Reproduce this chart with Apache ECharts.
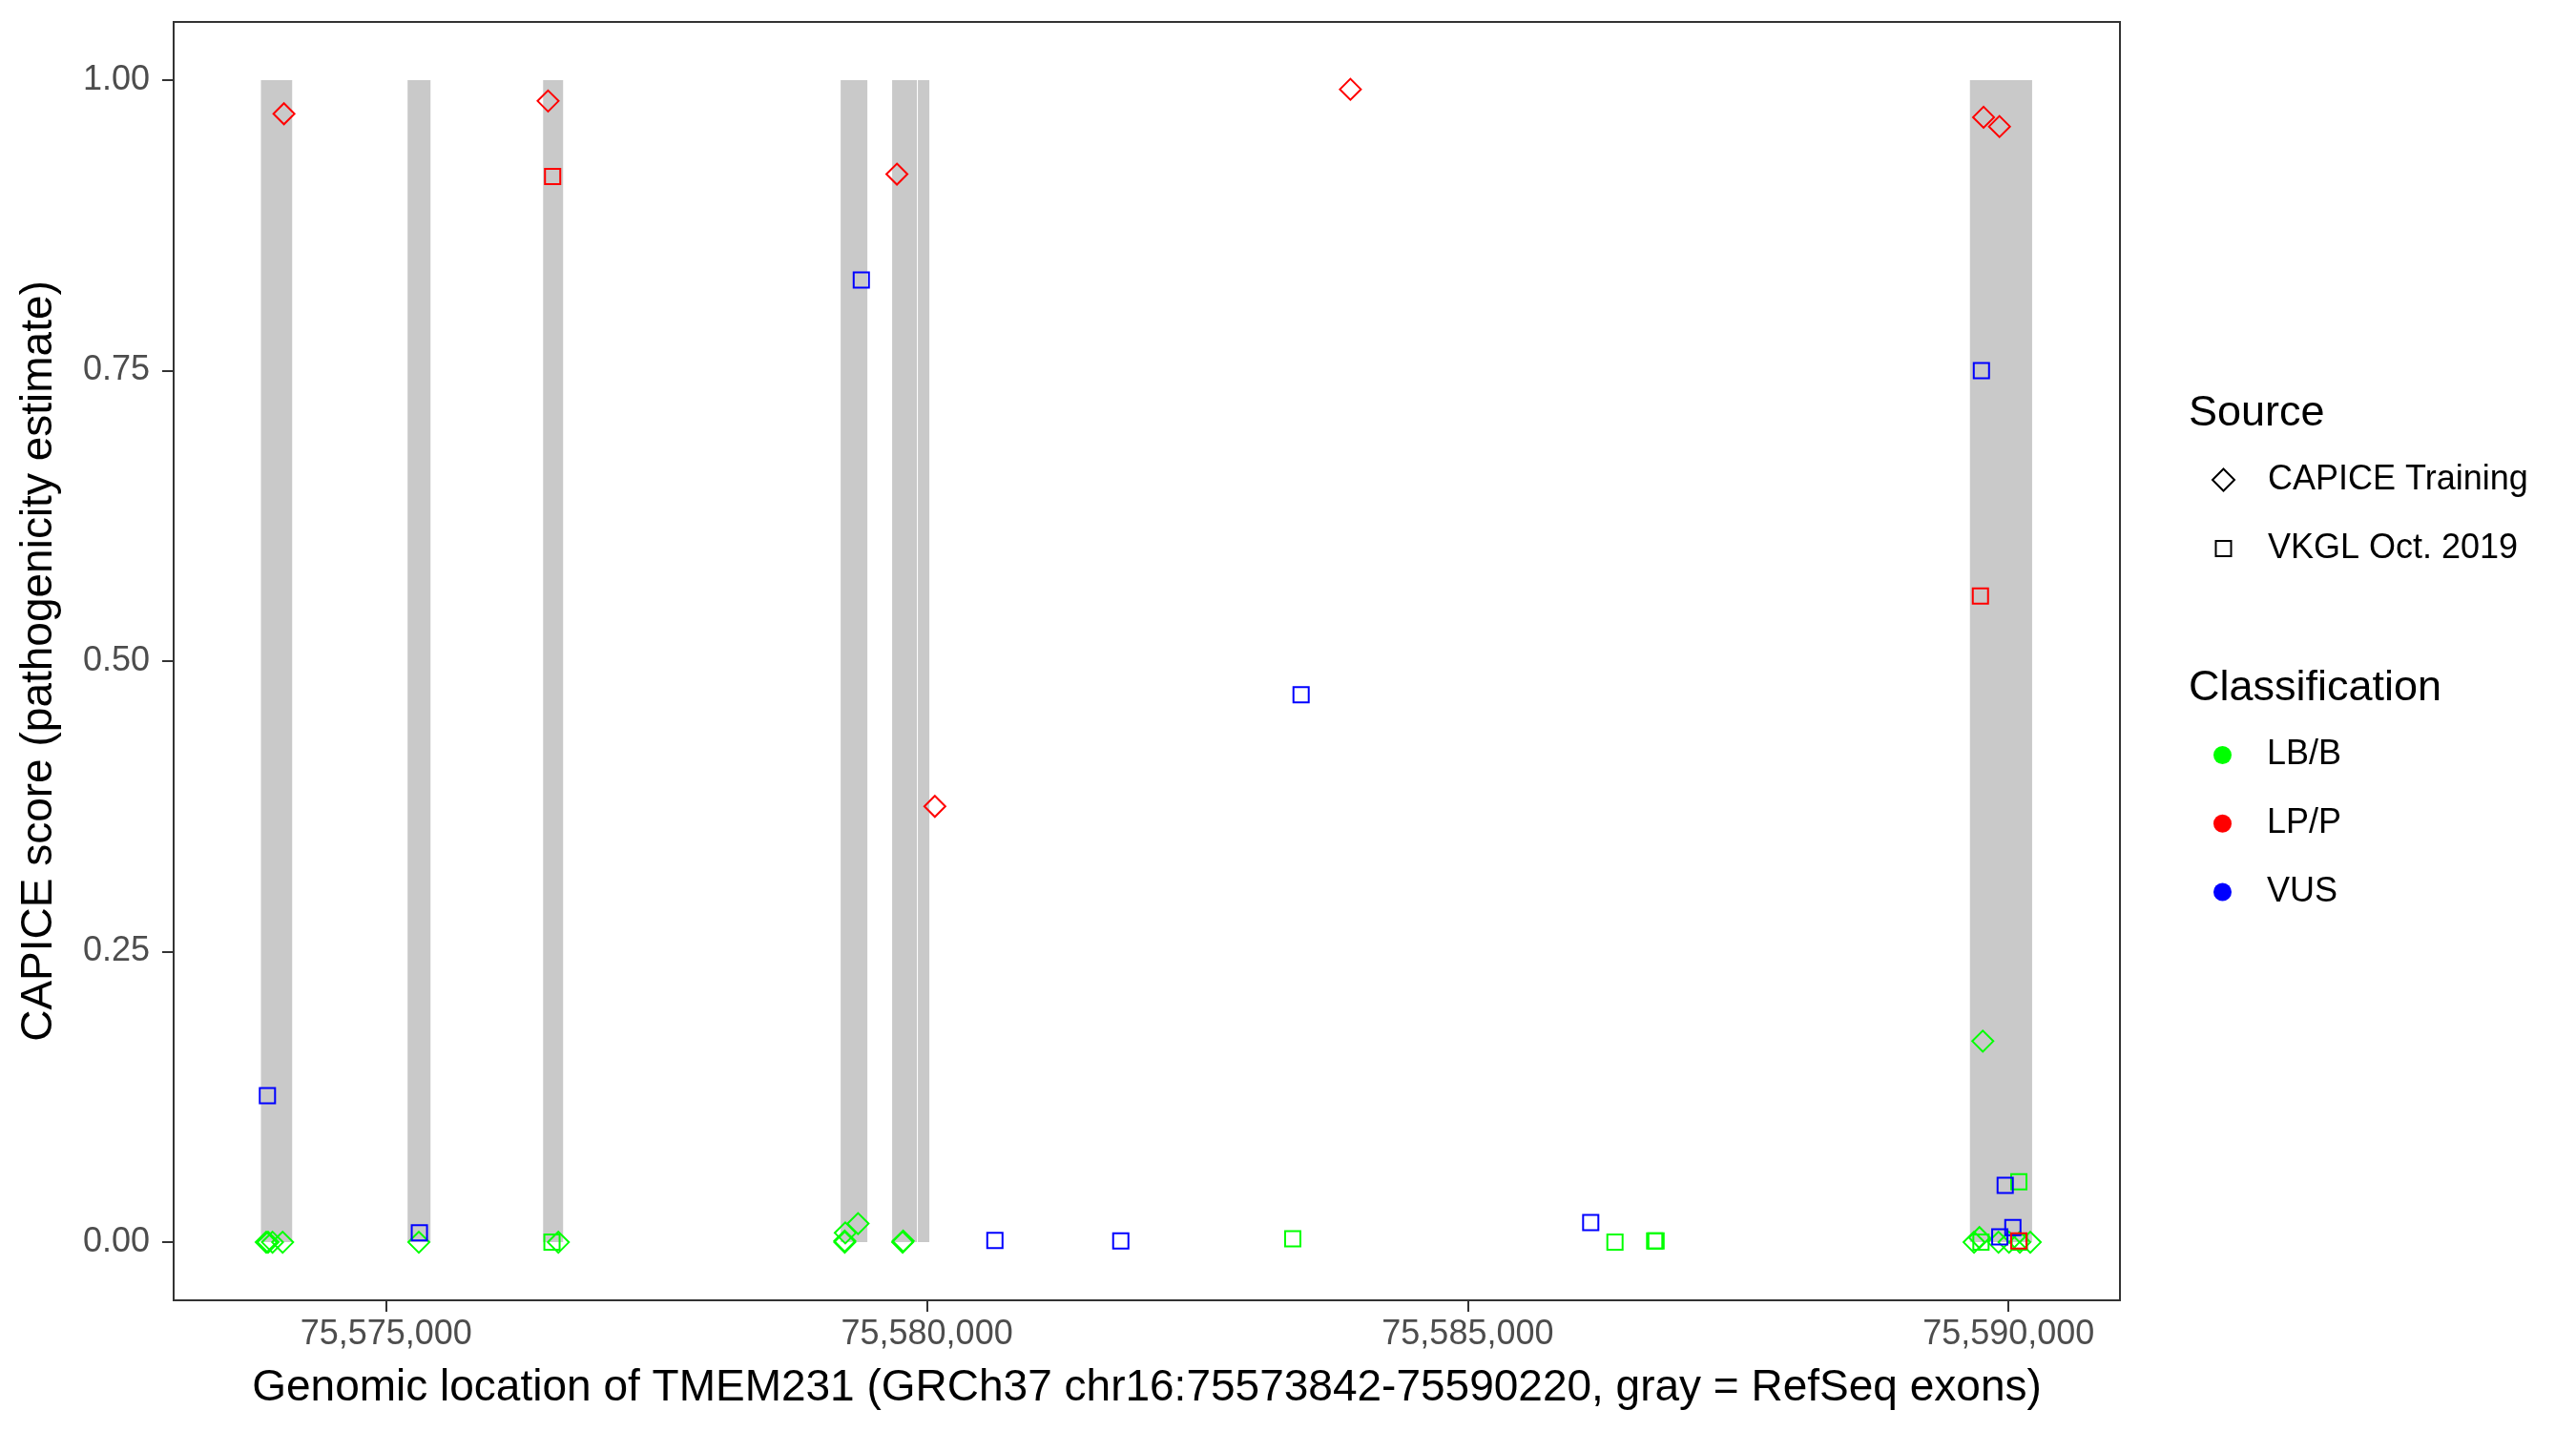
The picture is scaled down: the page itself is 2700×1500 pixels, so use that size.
<!DOCTYPE html>
<html><head><meta charset="utf-8">
<script src="https://cdn.jsdelivr.net/npm/echarts@6/dist/echarts.min.js"></script>
<style>html,body{margin:0;padding:0;background:#fff}#c{width:2700px;height:1500px}</style>
</head><body><div id="c"></div>
<script>
// ---- data ----
const xTicks = [75575000, 75580000, 75585000, 75590000];
const yTicks = [0, 0.25, 0.5, 0.75, 1];
const exonStart = [75573842, 75575198, 75576451, 75579202, 75579678, 75579916, 75589643];
const exonEnd   = [75574131, 75575410, 75576636, 75579449, 75579907, 75580022, 75590218];

// CAPICE Training (diamonds)
const trainingLBB = [[75573891,0],[75573908,0],[75573949,0],[75574043,0],
  [75575302,0],[75576592,0],
  [75579240,0],[75579240,0.001],[75579245,0.008],[75579363,0.016],
  [75579775,0],[75579780,0.001],
  [75589681,0],[75589731,0.004],[75589907,0],[75590004,0],[75590104,0],[75590201,0],[75589762,0.173]];
const trainingLPP = [[75574055,0.971],[75576497,0.982],[75579722,0.919],[75580073,0.375],
  [75583915,0.992],[75589769,0.968],[75589916,0.960]];
// VKGL Oct. 2019 (squares)
const vkglLBB = [[75576533,0],[75583382,0.003],[75586361,0],[75586728,0.001],[75586741,0.001],
  [75589745,0],[75590095,0.052],[75590100,0]];
const vkglLPP = [[75576539,0.917],[75589740,0.556],[75590095,0.001]];
const vkglVUS = [[75573902,0.126],[75575307,0.008],[75579393,0.828],[75580628,0.0015],[75581792,0.0012],
  [75583459,0.471],[75586137,0.017],[75589749,0.750],[75589969,0.049],[75590040,0.0125],[75589919,0.0045]];

const sourceNames = ['CAPICE Training', 'VKGL Oct. 2019'];
const classNames = ['LB/B', 'LP/P', 'VUS'];
const classColors = ['#00FF00', '#FF0000', '#0000FF'];

// ---- chart ----
const FF = '"Liberation Sans", Arial, Helvetica, sans-serif';
const chart = echarts.init(document.getElementById('c'));
const fmt = v => String(v).replace(/\B(?=(\d{3})+(?!\d))/g, ',');

function pts(name, data, symbol, color) {
  return {
    type: 'scatter', name, data, symbol,
    symbolSize: symbol === 'diamond' ? 22 : 16,
    itemStyle: { color: 'rgba(0,0,0,0)', borderColor: color, borderWidth: 2, opacity: 1 },
    z: 3, silent: true
  };
}

const series = [
  {
    type: 'custom', name: 'exons', z: 1, silent: true,
    data: exonStart.map((s, i) => [s, exonEnd[i]]),
    encode: { x: [0, 1] },
    renderItem: (params, api) => {
      const p0 = api.coord([api.value(0), 1]);
      const p1 = api.coord([api.value(1), 0]);
      return { type: 'rect', shape: { x: p0[0], y: p0[1], width: p1[0] - p0[0], height: p1[1] - p0[1] },
               style: { fill: '#C9C9C9' } };
    }
  },
  pts('t-LB/B', trainingLBB, 'diamond', classColors[0]),
  pts('v-LB/B', vkglLBB, 'rect', classColors[0]),
  pts('t-LP/P', trainingLPP, 'diamond', classColors[1]),
  pts('v-VUS', vkglVUS, 'rect', classColors[2]),
  pts('v-LP/P', vkglLPP, 'rect', classColors[1]),
  // legend entries
  { type: 'scatter', name: sourceNames[0], data: [], symbol: 'diamond' },
  { type: 'scatter', name: sourceNames[1], data: [], symbol: 'rect' },
  ...classNames.map((n, i) => ({ type: 'scatter', name: n, data: [], symbol: 'circle', itemStyle: { color: classColors[i], opacity: 1 } }))
];

const legTxt = pad => ({ fontSize: 36, color: '#000', lineHeight: 40, fontFamily: FF, padding: [0, 0, 0, pad] });

chart.setOption({
  animation: false,
  backgroundColor: '#fff',
  grid: { left: 182, right: 478, top: 23, bottom: 137, show: true, borderColor: '#333', borderWidth: 2,
          backgroundColor: '#fff', outerBoundsMode: 'none' },
  title: [
    { text: 'Source', left: 2294, top: 409, padding: 0,
      textStyle: { fontSize: 45, fontWeight: 'normal', color: '#000', lineHeight: 50, fontFamily: FF } },
    { text: 'Classification', left: 2294, top: 697, padding: 0,
      textStyle: { fontSize: 45, fontWeight: 'normal', color: '#000', lineHeight: 50, fontFamily: FF } }
  ],
  legend: [
    { data: [{ name: sourceNames[0], icon: 'diamond', itemStyle: { color: 'rgba(0,0,0,0)', borderColor: '#000', borderWidth: 2, opacity: 1 } }],
      orient: 'vertical', left: 2318, top: 483, itemWidth: 23, itemHeight: 23, padding: 0,
      selectedMode: false, textStyle: legTxt(30) },
    { data: [{ name: sourceNames[1], icon: 'rect', itemStyle: { color: 'rgba(0,0,0,0)', borderColor: '#000', borderWidth: 2, opacity: 1 } }],
      orient: 'vertical', left: 2321.5, top: 555, itemWidth: 16, itemHeight: 16, padding: 0,
      selectedMode: false, textStyle: legTxt(33.5) },
    { data: classNames.map((n, i) => ({ name: n, icon: 'circle', itemStyle: { color: classColors[i], borderWidth: 0, opacity: 1 } })),
      orient: 'vertical', left: 2320, top: 771.5, itemWidth: 19, itemHeight: 19, itemGap: 31.75, padding: 0,
      selectedMode: false, textStyle: legTxt(32) }
  ],
  xAxis: {
    type: 'value', min: 75573035, max: 75591030,
    axisLine: { show: true, onZero: false, lineStyle: { color: '#333', width: 2 } },
    axisTick: { show: true, length: 12, customValues: xTicks, lineStyle: { color: '#333', width: 2 } },
    axisLabel: { customValues: xTicks, formatter: fmt, fontSize: 36, color: '#4D4D4D', margin: 18, fontFamily: FF },
    splitLine: { show: false },
    name: 'Genomic location of TMEM231 (GRCh37 chr16:75573842-75590220, gray = RefSeq exons)',
    nameLocation: 'middle', nameGap: 67,
    nameTextStyle: { fontSize: 46, color: '#000', lineHeight: 50, fontFamily: FF }
  },
  yAxis: {
    type: 'value', min: -0.05, max: 1.05,
    axisLine: { show: true, onZero: false, lineStyle: { color: '#333', width: 2 } },
    axisTick: { show: true, length: 12, customValues: yTicks, lineStyle: { color: '#333', width: 2 } },
    axisLabel: { customValues: yTicks, formatter: v => Number(v).toFixed(2), fontSize: 36, color: '#4D4D4D', margin: 25, fontFamily: FF },
    splitLine: { show: false },
    name: 'CAPICE score (pathogenicity estimate)',
    nameLocation: 'middle', nameRotate: 90, nameGap: 116,
    nameTextStyle: { fontSize: 46, color: '#000', lineHeight: 50, fontFamily: FF }
  },
  series
});
</script>
</body></html>
